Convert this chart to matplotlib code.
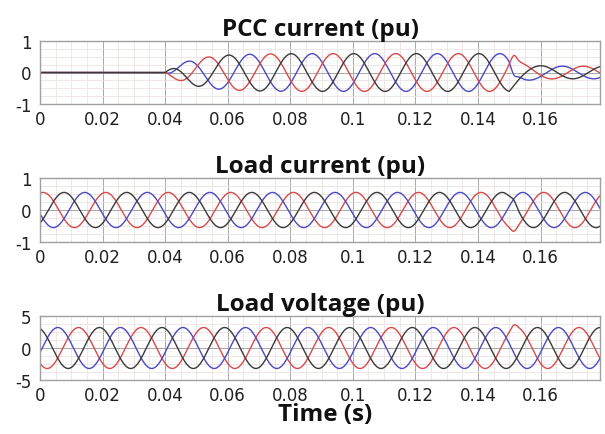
import numpy as np
import matplotlib
matplotlib.use("Agg")
import matplotlib.pyplot as plt
from matplotlib.ticker import MultipleLocator

plt.rcParams["axes.unicode_minus"] = False

# ---- waveform parameters -------------------------------------------------
freq_hz = 50.0
t_end = 0.179
x_ticks = [0, 0.02, 0.04, 0.06, 0.08, 0.1, 0.12, 0.14, 0.16]
x_tick_labels = ["0", "0.02", "0.04", "0.06", "0.08", "0.1", "0.12", "0.14", "0.16"]

phase_colors = {"black": "#3a3a3a", "blue": "#4a4ac4", "red": "#d84a4a"}

# PCC current: off until the compensator starts, then steady, then reduced
pcc_peak_times = {"blue": 0.047, "red": 0.0537, "black": 0.0603}
pcc_start = 0.04
pcc_step = 0.15
pcc_amp_on = 0.6
pcc_amp_after = 0.2
pcc_ticks = [-1, 0, 1]

# Load current
load_i_peak_times = {"red": 0.001, "black": 0.0077, "blue": 0.0143}
load_i_amp = 0.55
load_i_ticks = [-1, 0, 1]

# Load voltage
load_v_peak_times = {"black": -0.001, "blue": 0.0057, "red": 0.0123}
load_v_amp = 3.2
load_v_ticks = [-5, 0, 5]

# small disturbance at the switching instant (per phase, pu)
pcc_kick = {"red": 0.2, "blue": -0.15, "black": 0.0}
load_i_kick = {"red": -0.12, "blue": 0.0, "black": 0.1}
load_v_kick = {"red": 0.5, "blue": 0.0, "black": 0.0}

t = np.linspace(0, t_end, 4000)
w = 2 * np.pi * freq_hz


def wave(amp, t_peak):
    return amp * np.cos(w * (t - t_peak))


def kick(size):
    return size * np.exp(-((t - 0.1515) / 0.0012) ** 2)


# PCC envelope
env = np.where(t < pcc_start, 0.0,
               pcc_amp_on * (1 - np.exp(-(t - pcc_start) / 0.008)))
env = np.where(t >= pcc_step,
               pcc_amp_after + (pcc_amp_on - pcc_amp_after) * np.exp(-(t - pcc_step) / 0.003),
               env)

fig = plt.figure(figsize=(6.05, 4.35), dpi=100)
fig.patch.set_facecolor("white")

rects = [
    [40 / 605, 1 - 105 / 435, 560 / 605, 63 / 435],
    [40 / 605, 1 - 243 / 435, 560 / 605, 64 / 435],
    [40 / 605, 1 - 381 / 435, 560 / 605, 64 / 435],
]
titles = ["PCC current (pu)", "Load current (pu)", "Load voltage (pu)"]

title_font = dict(family=["Open Sans", "DejaVu Sans"], weight="bold", size=17.5)
tick_font_family = ["DejaVu Sans"]

axes = [fig.add_axes(r) for r in rects]

# PCC current
ax = axes[0]
for name in ["blue", "red", "black"]:
    y = env * np.cos(w * (t - pcc_peak_times[name])) + kick(pcc_kick[name])
    ax.plot(t, y, color=phase_colors[name], lw=1.0)
ax.set_ylim(-1, 1)
ax.set_yticks(pcc_ticks)

# Load current
ax = axes[1]
for name in ["red", "blue", "black"]:
    y = wave(load_i_amp, load_i_peak_times[name]) + kick(load_i_kick[name])
    ax.plot(t, y, color=phase_colors[name], lw=1.0)
ax.set_ylim(-1, 1)
ax.set_yticks(load_i_ticks)

# Load voltage
ax = axes[2]
for name in ["red", "blue", "black"]:
    y = wave(load_v_amp, load_v_peak_times[name]) + kick(load_v_kick[name])
    ax.plot(t, y, color=phase_colors[name], lw=1.0)
ax.set_ylim(-5, 5)
ax.set_yticks(load_v_ticks)

for ax, title in zip(axes, titles):
    ax.set_xlim(0, t_end)
    ax.set_xticks(x_ticks)
    ax.set_xticklabels(x_tick_labels)
    ylo, yhi = ax.get_ylim()
    ax.xaxis.set_minor_locator(MultipleLocator(0.005))
    ax.yaxis.set_minor_locator(MultipleLocator((yhi - ylo) / 8))
    ax.grid(which="major", color="#a8a8a8", lw=0.7)
    ax.grid(which="minor", color="#ece2e2", lw=0.6)
    ax.set_axisbelow(True)
    ax.tick_params(which="both", direction="in", length=0)
    ax.tick_params(axis="both", labelsize=12, labelcolor="#202020")
    ax.tick_params(axis="x", pad=4)
    ax.tick_params(axis="y", pad=6)
    for lbl in ax.get_xticklabels() + ax.get_yticklabels():
        lbl.set_family(tick_font_family)
    for sp in ax.spines.values():
        sp.set_color("#a0a0a0")
        sp.set_linewidth(1.0)
    ax.set_title(title, fontdict=title_font, pad=3, color="#111111")

fig.text(325 / 605, 1 - 415 / 435, "Time (s)", ha="center", va="center",
         fontdict=title_font, color="#111111")

fig.savefig("out.png", dpi=100, facecolor="white")
